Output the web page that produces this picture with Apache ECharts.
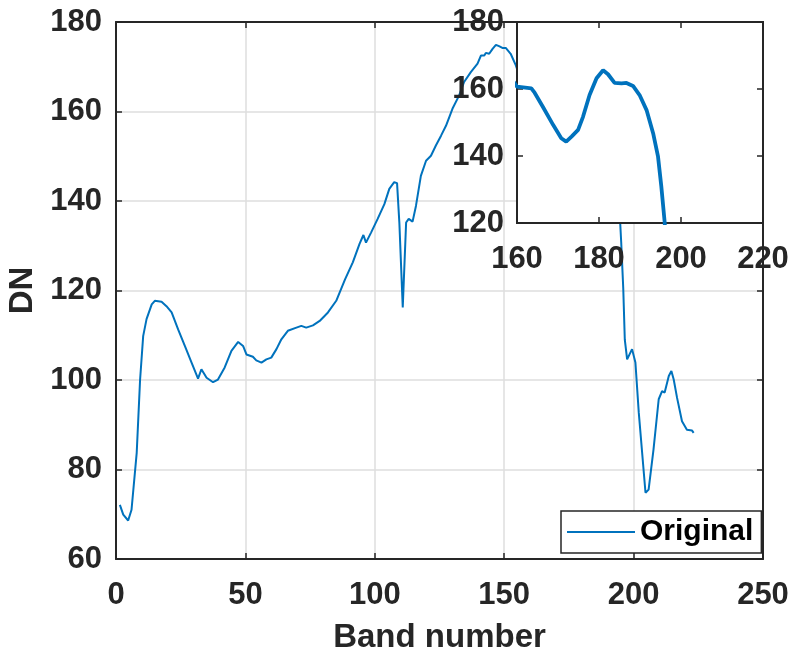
<!DOCTYPE html>
<html>
<head>
<meta charset="utf-8">
<script src="https://cdn.jsdelivr.net/npm/echarts@6/dist/echarts.min.js"></script>
<style>
  html, body { margin: 0; padding: 0; background: #fff; }
  #chart { width: 791px; height: 656px; }
</style>
</head>
<body>
<div id="chart"></div>
<script>
// band numbers and DN values
var bands = [1.5, 2.8, 4.7, 6.0, 8.0, 9.3, 10.5, 11.8, 13.8, 15, 17.6, 19.5, 21.5, 24, 26.6, 29.2,
  31.7, 33.0, 35, 37.5, 39.4, 42, 44.6, 47.2, 49.1, 50.4, 52.9, 54.2, 56.2, 58.1, 60, 62, 63.9,
  66.4, 69.7, 71.6, 73.5, 76.1, 78.7, 81.9, 85.1, 88.5, 91.5, 94.1, 95.6, 96.6, 98.6, 101.1,
  103.7, 105.6, 107.5, 108.6, 109.5, 110.8, 112.1, 113.1, 114.6, 115.9, 117.8, 119.8, 121.7,
  123.6, 125.6, 127.5, 130, 132.6, 134.5, 137.1, 139.7, 141, 142.3, 142.9, 144.2, 145.5, 146.8,
  148, 149.3, 150.6, 152.5, 154.5, 157, 160, 161.5, 163.5, 164.3, 166.3, 168.8, 170.8, 172,
  173.3, 174.9, 176.1, 177.7, 179.4, 181, 182.2, 183.8, 185.5, 186.7, 188.3, 189.9, 191.6,
  193.2, 194.4, 195.2, 196, 196.6, 197.5, 199.4, 200.7, 202, 204.6, 205.8, 207.7, 209.7, 211,
  212, 213.6, 214.6, 215.5, 216.8, 218.7, 220.6, 222.6, 223.2];
var dn = [72.1, 69.9, 68.6, 71, 83.7, 100, 109.8, 113.6, 116.9, 117.7, 117.5, 116.5, 115.1, 111.3,
  107.6, 103.9, 100.3, 102.4, 100.5, 99.5, 100.1, 102.8, 106.5, 108.5, 107.6, 105.7, 105.2,
  104.4, 103.9, 104.6, 105, 106.9, 109.1, 111, 111.7, 112.1, 111.7, 112.2, 113.2, 115.1, 117.7,
  122.5, 126.3, 130.4, 132.4, 130.7, 133, 136, 139.3, 142.7, 144.2, 144, 135, 116.2, 135.2, 136,
  135.4, 138.9, 145.6, 149, 150.1, 152.4, 154.6, 156.8, 160.6, 163.6, 166.6, 168.8, 170.7,
  172.5, 172.5, 173.1, 172.9, 174, 174.9, 174.6, 174.2, 174.2, 172.9, 170.3, 166, 160.7, 160.5,
  160.2, 158.9, 154.7, 149.3, 145.3, 144.3, 145.8, 147.8, 151.7, 158.2, 163.2, 165.6, 164.4,
  161.8, 161.7, 161.8, 160.9, 158.2, 153.7, 146.8, 139.8, 130.9, 120.5, 109, 104.6, 106.9,
  103.9, 92.7, 74.8, 75.5, 84.5, 95.7, 97.5, 97.2, 100.9, 102, 100.1, 96, 90.8, 88.9, 88.7, 88.2];

var seriesName = 'Original'
var xName = 'Band number'
var yName = 'DN'

var fontFamily = '"Liberation Sans", Arial, sans-serif'
var dark = '#262626'
var blue = '#0072BD'

var points = bands.map(function (b, i) { return [b, dn[i]] })

// axis helper
function axis(opt) {
  var a = {
    type: 'value',
    gridIndex: opt.grid,
    position: opt.pos,
    min: opt.min,
    max: opt.max,
    interval: opt.interval,
    z: opt.z,
    axisLine: { show: true, onZero: false, lineStyle: { color: dark, width: 2 } },
    axisTick: { show: true, inside: true, length: 6, lineStyle: { color: dark, width: 1.5 } },
    axisLabel: {
      show: opt.label,
      margin: opt.margin,
      color: dark,
      fontFamily: fontFamily,
      fontWeight: 'bold',
      fontSize: 31
    },
    splitLine: { show: !!opt.split, lineStyle: { color: '#dedede', width: 1.5 } }
  }
  if (opt.name) {
    a.name = opt.name
    a.nameLocation = 'middle'
    a.nameGap = opt.nameGap
    a.nameTextStyle = { color: dark, fontFamily: fontFamily, fontWeight: 'bold', fontSize: 33 }
  }
  return a
}

var chart = echarts.init(document.getElementById('chart'))
var option = {
  animation: false,
  backgroundColor: '#fff',
  grid: [
    { left: 116, right: 28, top: 22, bottom: 97, outerBoundsMode: 'none', containLabel: false },
    { left: 517, right: 28, top: 22, bottom: 433, outerBoundsMode: 'none', containLabel: false,
      show: true, backgroundColor: '#fff', borderColor: dark, borderWidth: 2, z: 3 }
  ],
  legend: {
    data: [{ name: seriesName, icon: 'rect' }],
    left: 561,
    top: 511,
    padding: [6, 8, 6, 6],
    itemWidth: 68,
    itemHeight: 2,
    itemGap: 5,
    backgroundColor: '#fff',
    borderColor: dark,
    borderWidth: 1.5,
    borderRadius: 0,
    textStyle: { color: '#000', fontFamily: fontFamily, fontWeight: 'bold', fontSize: 30 }
  },
  xAxis: [
    axis({ grid: 0, pos: 'bottom', min: 0, max: 250, interval: 50, label: true, margin: 21,
      split: true, name: xName, nameGap: 62, z: 0 }),
    axis({ grid: 0, pos: 'top', min: 0, max: 250, interval: 50, label: false, z: 0 }),
    axis({ grid: 1, pos: 'bottom', min: 160, max: 220, interval: 20, label: true, margin: 21, z: 5 }),
    axis({ grid: 1, pos: 'top', min: 160, max: 220, interval: 20, label: false, z: 5 })
  ],
  yAxis: [
    axis({ grid: 0, pos: 'left', min: 60, max: 180, interval: 20, label: true, margin: 14,
      split: true, name: yName, nameGap: 77, z: 0 }),
    axis({ grid: 0, pos: 'right', min: 60, max: 180, interval: 20, label: false, z: 0 }),
    axis({ grid: 1, pos: 'left', min: 120, max: 180, interval: 20, label: true, margin: 13, z: 5 }),
    axis({ grid: 1, pos: 'right', min: 120, max: 180, interval: 20, label: false, z: 5 })
  ],
  series: [
    {
      name: seriesName,
      type: 'line',
      xAxisIndex: 0,
      yAxisIndex: 0,
      data: points,
      symbol: 'none',
      clip: true,
      z: 2,
      lineStyle: { color: blue, width: 2 },
      itemStyle: { color: blue }
    },
    {
      name: 'zoom',
      type: 'line',
      xAxisIndex: 2,
      yAxisIndex: 2,
      data: points,
      symbol: 'none',
      clip: true,
      z: 6,
      lineStyle: { color: blue, width: 3.8 },
      itemStyle: { color: blue }
    }
  ]
}
chart.setOption(option)
</script>
</body>
</html>
